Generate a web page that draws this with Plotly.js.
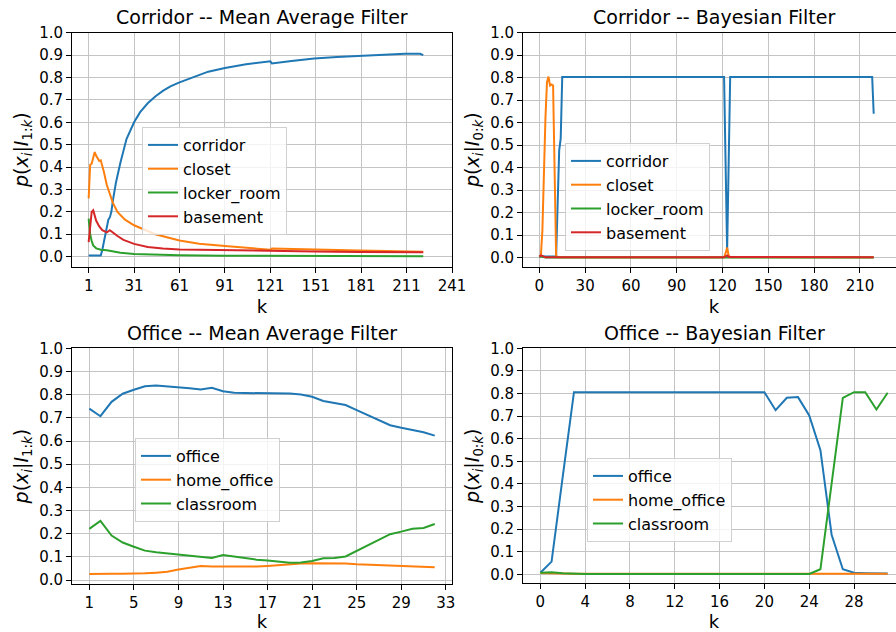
<!DOCTYPE html>
<html>
<head>
<meta charset="utf-8">
<script src="https://cdn.plot.ly/plotly-3.0.1.min.js"></script>
<style>
html,body{margin:0;padding:0;overflow:hidden;background:#fff;}
#chart{width:910px;height:632px;}
</style>
</head>
<body>
<div id="chart"></div>
<script>
// ---------- Corridor -- Mean Average Filter ----------
const cmCorridorK = [1,9,10,11,13,14,15,16,17,19,22,26,31,35,40,45,50,55,61,70,80,91,105,121,122,135,150,165,180,195,210,220,222];
const cmCorridorV = [0.005,0.005,0.03,0.06,0.12,0.165,0.175,0.2,0.25,0.33,0.42,0.525,0.6,0.645,0.685,0.715,0.74,0.76,0.778,0.8,0.826,0.842,0.859,0.872,0.863,0.874,0.885,0.891,0.897,0.902,0.906,0.906,0.9];
const cmClosetK = [1,2,3,4,5,6,7,8,9,10,11,13,15,17,20,25,31,36,45,61,74,91,121,122,150,180,222];
const cmClosetV = [0.26,0.41,0.415,0.44,0.467,0.45,0.44,0.427,0.43,0.41,0.38,0.32,0.275,0.24,0.2,0.165,0.14,0.125,0.1,0.072,0.057,0.047,0.031,0.036,0.031,0.027,0.022];
const cmLockerK = [1,2,3,4,6,9,13,17,22,31,45,61,91,121,222];
const cmLockerV = [0.17,0.1,0.07,0.05,0.037,0.031,0.028,0.022,0.017,0.012,0.008,0.006,0.004,0.003,0.002];
const cmBasementK = [1,2,3,4,5,6,8,10,13,15,17,20,24,31,40,50,61,91,121,150,180,222];
const cmBasementV = [0.065,0.14,0.2,0.207,0.18,0.16,0.135,0.118,0.108,0.118,0.108,0.092,0.075,0.057,0.043,0.036,0.032,0.028,0.025,0.023,0.021,0.02];

// ---------- Corridor -- Bayesian Filter ----------
const cbCorridorK = [0,11,12,13,14,15,121,123,125,218,219];
const cbCorridorV = [0.005,0.005,0.24,0.476,0.53,0.803,0.803,0.03,0.803,0.803,0.64];
const cbClosetK = [0,1,2,3,4,5,6,7,8,9,10,11,12,121,122,123,124,125,219];
const cbClosetV = [0.005,0.01,0.12,0.4,0.62,0.78,0.805,0.765,0.77,0.765,0.4,0.01,0.002,0.002,0.02,0.045,0.01,0.002,0.002];
const cbLockerK = [0,1,2,3,4,219];
const cbLockerV = [0.003,0.008,0.004,0.002,0.001,0.001];
const cbBasementK = [0,1,2,3,4,121,122,123,124,219];
const cbBasementV = [0.005,0.01,0.008,0.003,0.002,0.002,0.008,0.01,0.003,0.002];

// ---------- Office -- Mean Average Filter ----------
const omK = [1,2,3,4,5,6,7,8,9,10,11,12,13,14,15,16,17,18,19,20,21,22,23,24,25,26,27,28,29,30,31,32];
const omOffice = [0.740,0.707,0.769,0.804,0.821,0.836,0.840,0.837,0.831,0.828,0.822,0.830,0.815,0.808,0.807,0.807,0.808,0.805,0.805,0.801,0.791,0.773,0.765,0.755,0.733,0.711,0.690,0.668,0.657,0.646,0.638,0.623];
const omHome = [0.026,0.025,0.027,0.027,0.027,0.029,0.032,0.036,0.046,0.053,0.061,0.059,0.058,0.058,0.058,0.058,0.061,0.065,0.069,0.071,0.072,0.072,0.072,0.071,0.068,0.066,0.063,0.061,0.059,0.058,0.056,0.055];
const omClass = [0.221,0.255,0.192,0.162,0.144,0.127,0.120,0.115,0.111,0.105,0.101,0.095,0.108,0.101,0.094,0.088,0.084,0.079,0.075,0.076,0.082,0.094,0.095,0.102,0.126,0.149,0.173,0.198,0.209,0.221,0.225,0.242];

// ---------- Office -- Bayesian Filter ----------
const obK = [0,1,2,3,4,5,6,7,8,9,10,11,12,13,14,15,16,17,18,19,20,21,22,23,24,25,26,27,28,29,30,31];
const obOffice = [0.007,0.056,0.433,0.806,0.806,0.806,0.806,0.806,0.806,0.806,0.806,0.806,0.806,0.806,0.806,0.806,0.806,0.806,0.806,0.806,0.806,0.726,0.781,0.784,0.703,0.549,0.175,0.022,0.007,0.005,0.004,0.003];
const obHome = [0.006,0.004,0.002,0.002,0.002,0.002,0.002,0.002,0.002,0.002,0.002,0.002,0.002,0.002,0.002,0.002,0.002,0.002,0.002,0.002,0.002,0.002,0.002,0.002,0.002,0.002,0.002,0.002,0.002,0.002,0.002,0.002];
const obClass = [0.007,0.009,0.004,0.001,0.001,0.001,0.001,0.001,0.001,0.001,0.001,0.001,0.001,0.001,0.001,0.001,0.001,0.001,0.001,0.001,0.001,0.001,0.001,0.001,0.001,0.022,0.400,0.781,0.806,0.806,0.729,0.803];

// tick labels
const tlTicks = [1,31,61,91,121,151,181,211,241];
const trTicks = [0,30,60,90,120,150,180,210];
const blTicks = [1,5,9,13,17,21,25,29,33];
const brTicks = [0,4,8,12,16,20,24,28];
const yTicks = [0,0.1,0.2,0.3,0.4,0.5,0.6,0.7,0.8,0.9,1.0];

const C = ['#1f77b4','#ff7f0e','#2ca02c','#d62728'];
const FONT = 'DejaVu Sans, sans-serif';

function tr(x,y,name,color,xa,ya,leg){
  return {x:x,y:y,name:name,type:'scatter',mode:'lines',line:{color:color,width:2},
          xaxis:xa,yaxis:ya,legend:leg,hoverinfo:'skip'};
}

const data = [
  tr(cmCorridorK,cmCorridorV,'corridor',C[0],'x','y','legend'),
  tr(cmClosetK,cmClosetV,'closet',C[1],'x','y','legend'),
  tr(cmLockerK,cmLockerV,'locker_room',C[2],'x','y','legend'),
  tr(cmBasementK,cmBasementV,'basement',C[3],'x','y','legend'),
  tr(cbCorridorK,cbCorridorV,'corridor',C[0],'x2','y2','legend2'),
  tr(cbClosetK,cbClosetV,'closet',C[1],'x2','y2','legend2'),
  tr(cbLockerK,cbLockerV,'locker_room',C[2],'x2','y2','legend2'),
  tr(cbBasementK,cbBasementV,'basement',C[3],'x2','y2','legend2'),
  tr(omK,omOffice,'office',C[0],'x3','y3','legend3'),
  tr(omK,omHome,'home_office',C[1],'x3','y3','legend3'),
  tr(omK,omClass,'classroom',C[2],'x3','y3','legend3'),
  tr(obK,obOffice,'office',C[0],'x4','y4','legend4'),
  tr(obK,obHome,'home_office',C[1],'x4','y4','legend4'),
  tr(obK,obClass,'classroom',C[2],'x4','y4','legend4')
];

const W = 910, H = 632;
function xd(a,b){return [a/W,b/W];}
function yd(top,bot){return [(H-bot)/H,(H-top)/H];}

function xax(dom,range,ticks,anchor){
  return {domain:dom,range:range,tickvals:ticks,ticktext:ticks.map(String),anchor:anchor,
    showline:true,mirror:true,linecolor:'#000',linewidth:1,
    ticks:'outside',ticklen:5,tickwidth:1,tickcolor:'#000',
    showgrid:true,gridcolor:'#c4c4c4',gridwidth:1,zeroline:false,
    tickfont:{family:FONT,size:15,color:'#000'},
    title:{text:'k',font:{family:FONT,size:18,color:'#000'},standoff:6}};
}
function yax(dom,range,anchor,label){
  return {domain:dom,range:range,tickvals:yTicks,tickformat:'.1f',anchor:anchor,
    showline:true,mirror:true,linecolor:'#000',linewidth:1,
    ticks:'outside',ticklen:5,tickwidth:1,tickcolor:'#000',
    showgrid:true,gridcolor:'#c4c4c4',gridwidth:1,zeroline:false,
    tickfont:{family:FONT,size:15,color:'#000'},
    title:{text:label,font:{family:FONT,size:19,color:'#000'},standoff:5}};
}
const lab1 = '<i>p</i>(<i>x<sub>i</sub></i>|<i>I</i><sub>1:<i>k</i></sub>)';
const lab0 = '<i>p</i>(<i>x<sub>i</sub></i>|<i>I</i><sub>0:<i>k</i></sub>)';

function leg(x,y){
  return {x:x/W,y:(H-y)/H,xanchor:'left',yanchor:'top',
    bgcolor:'rgba(255,255,255,0.8)',bordercolor:'#d0d0d0',borderwidth:1,
    font:{family:FONT,size:16,color:'#000'}};
}
function ttl(text,cx,cy){
  return {text:text,x:cx/W,y:(H-cy)/H,xref:'paper',yref:'paper',showarrow:false,
    xanchor:'center',yanchor:'middle',font:{family:FONT,size:19,color:'#000'}};
}

const layout = {
  width:W,height:H,margin:{l:0,r:0,t:0,b:0},
  paper_bgcolor:'#fff',plot_bgcolor:'#fff',
  font:{family:FONT,color:'#000'},
  xaxis: xax(xd(72,452),[-10,241],tlTicks,'y'),
  yaxis: yax(yd(32.7,266.7),[-0.045,1.0],'x',lab1),
  xaxis2: xax(xd(523,905),[-10.7,239.5],trTicks,'y2'),
  yaxis2: yax(yd(32.7,266.7),[-0.04,1.0],'x2',lab0),
  xaxis3: xax(xd(72,452),[-0.55,33.55],blTicks,'y3'),
  yaxis3: yax(yd(348.3,584),[-0.017,1.0],'x3',lab1),
  xaxis4: xax(xd(523,905),[-1.55,32.55],brTicks,'y4'),
  yaxis4: yax(yd(348.3,583.3),[-0.04,1.0],'x4',lab0),
  legend: leg(142,127),
  legend2: leg(565,143),
  legend3: leg(135,438),
  legend4: leg(587,458),
  annotations:[
    ttl('Corridor -- Mean Average Filter',262,17),
    ttl('Corridor -- Bayesian Filter',714,17),
    ttl('Office -- Mean Average Filter',262,333),
    ttl('Office -- Bayesian Filter',714,333)
  ]
};

Plotly.newPlot('chart',data,layout,{staticPlot:true,displayModeBar:false});
</script>
</body>
</html>
